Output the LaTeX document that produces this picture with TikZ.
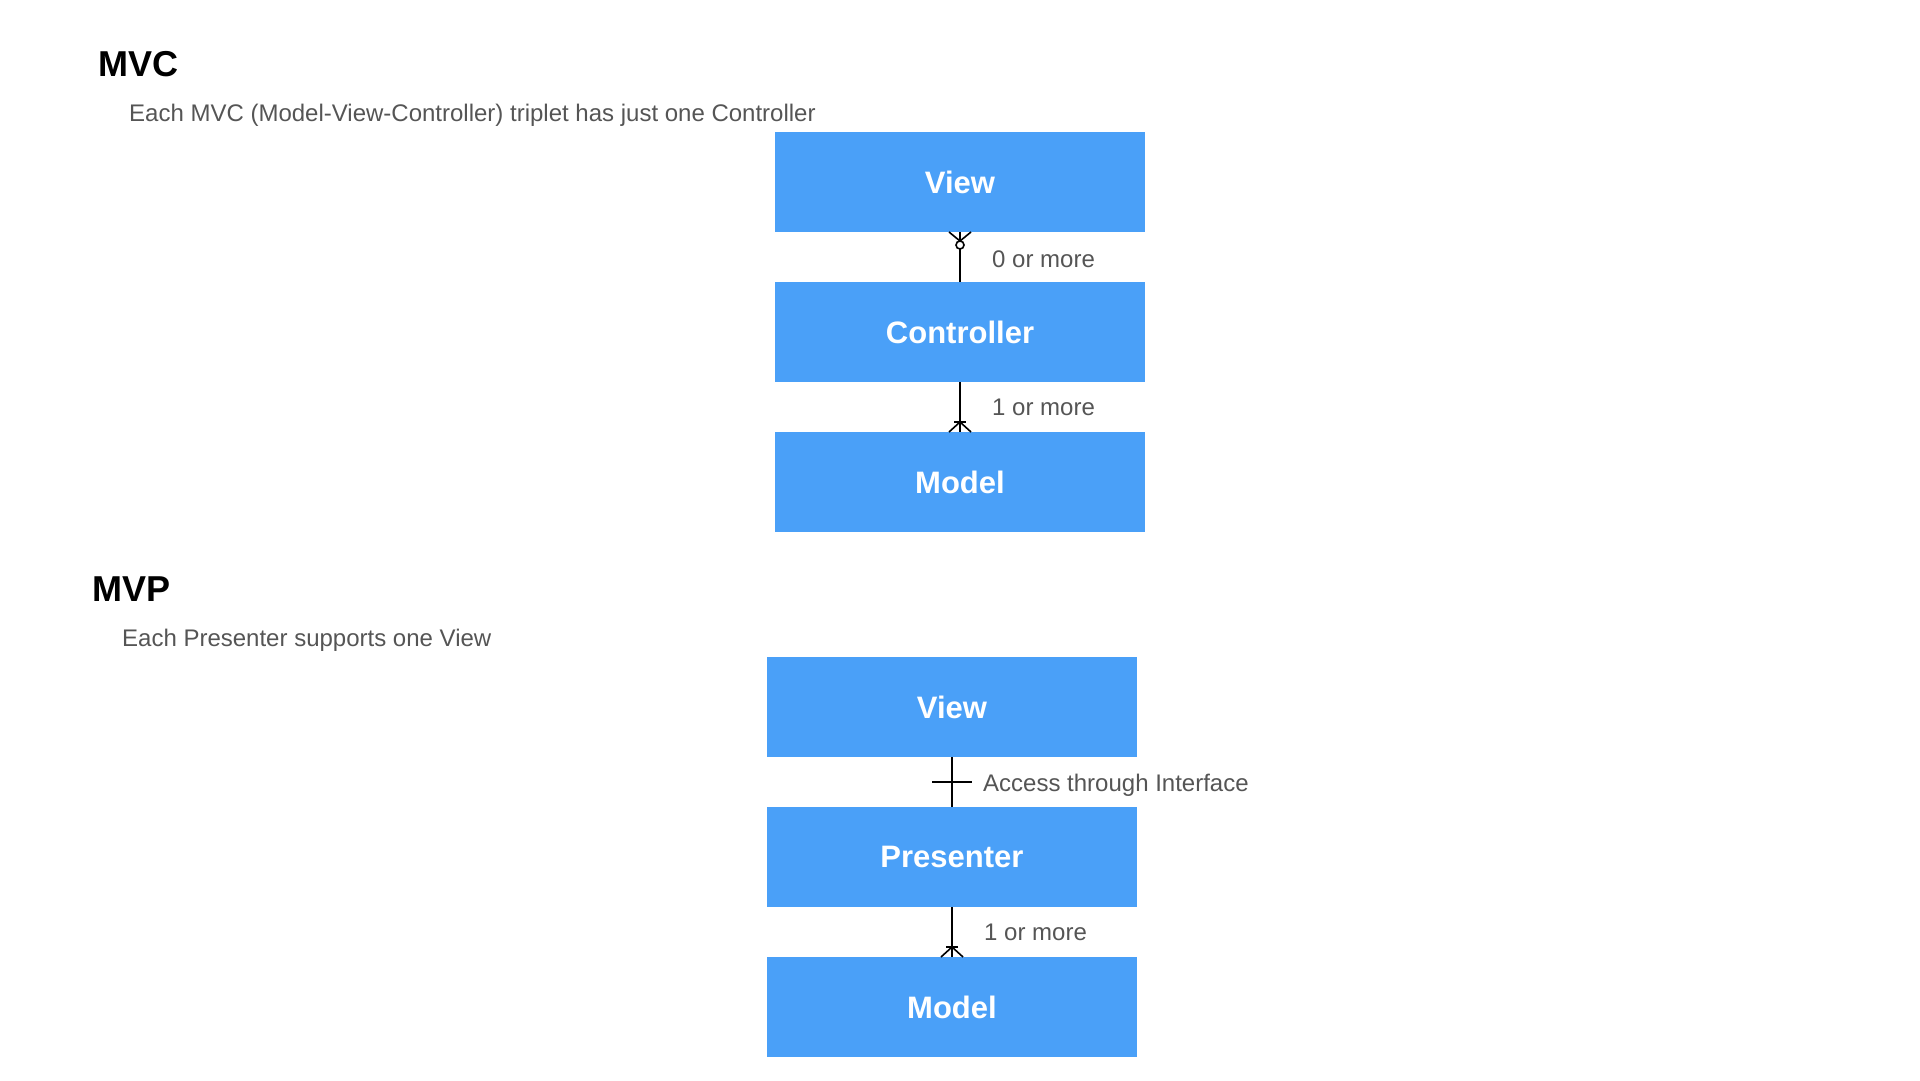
\documentclass[tikz,border=0pt]{standalone}
\usepackage{fontspec}
\setmainfont{Liberation Sans}
\usetikzlibrary{calc}

\definecolor{boxblue}{RGB}{74,160,248}
\definecolor{textgray}{RGB}{85,85,85}

\begin{document}
\begin{tikzpicture}[
        x=1pt, y=-1pt,
        block/.style={rectangle, fill=boxblue, draw=none, inner sep=0pt, outer sep=0pt, minimum width=370pt, minimum height=100pt, text=white, font=\fontsize{31}{36}\selectfont\bfseries},
        title/.style={anchor=base west, inner sep=0pt, font=\fontsize{36}{40}\selectfont\bfseries},
        subtitle/.style={anchor=base west, inner sep=0pt, text=textgray, font=\fontsize{24}{28}\selectfont},
        rel_label/.style={anchor=base west, inner sep=0pt, text=textgray, font=\fontsize{24}{28}\selectfont},
        link/.style={draw=black, line width=1.6pt}
    ]

        \useasboundingbox (0,0) rectangle (1920,1080);

        % MVC: one Controller per triplet
        \node[title] (mvc_title) at (98,76) {MVC};
        \node[subtitle] (mvc_sub) at (129,121) {Each MVC (Model-View-Controller) triplet has just one Controller};

        \node[block] (mvc_view) at (960,182) {View};
        \node[block] (mvc_ctrl) at (960,332) {Controller};
        \node[block] (mvc_model) at (960,482) {Model};

        % controller -> view, zero or many
        \draw[link] (mvc_ctrl.north) -- (mvc_view.south);
        \draw[link] (mvc_view.south) ++(-11,0) -- ++(11,9) -- ++(11,-9);
        \draw[link, fill=white] ($(mvc_view.south)+(0,13)$) circle (4pt);
        \node[rel_label] (mvc_view_lbl) at (992,267) {0 or more};

        % controller -> model, one or many
        \draw[link] (mvc_ctrl.south) -- (mvc_model.north);
        \draw[link] (mvc_model.north) ++(-11,0) -- ++(11,-10) -- ++(11,10);
        \draw[link] ($(mvc_model.north)+(-6,-10)$) -- ($(mvc_model.north)+(6,-10)$);
        \node[rel_label] (mvc_model_lbl) at (992,415) {1 or more};


        % MVP: one View per Presenter
        \node[title] (mvp_title) at (92,601) {MVP};
        \node[subtitle] (mvp_sub) at (122,646) {Each Presenter supports one View};

        \node[block] (mvp_view) at (952,707) {View};
        \node[block] (mvp_pres) at (952,857) {Presenter};
        \node[block] (mvp_model) at (952,1007) {Model};

        % presenter -> view through an interface
        \draw[link] (mvp_pres.north) -- (mvp_view.south);
        \draw[link] ($(mvp_view.south)+(-20,25)$) -- ($(mvp_view.south)+(20,25)$);
        \node[rel_label] (mvp_view_lbl) at (983,791) {Access through Interface};

        % presenter -> model, one or many
        \draw[link] (mvp_pres.south) -- (mvp_model.north);
        \draw[link] (mvp_model.north) ++(-11,0) -- ++(11,-10) -- ++(11,10);
        \draw[link] ($(mvp_model.north)+(-6,-10)$) -- ($(mvp_model.north)+(6,-10)$);
        \node[rel_label] (mvp_model_lbl) at (984,940) {1 or more};

    \end{tikzpicture}
\end{document}
